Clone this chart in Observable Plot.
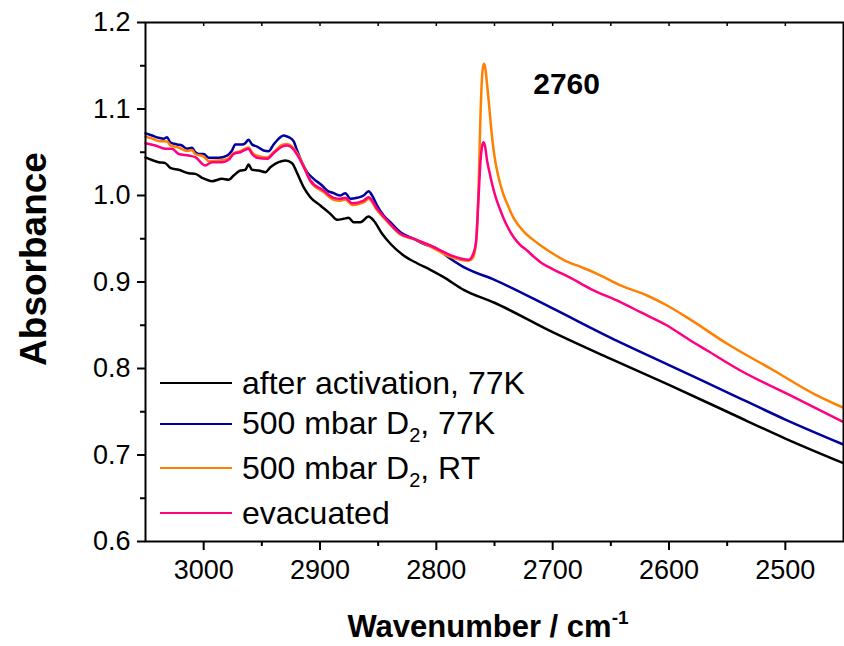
<!DOCTYPE html>
<html>
<head>
<meta charset="utf-8">
<script src="https://cdn.jsdelivr.net/npm/d3@7"></script>
<script src="https://cdn.jsdelivr.net/npm/@observablehq/plot@0.6"></script>
<style>
  body { margin: 0; background: #fff; }
  #wrap { position: relative; width: 844px; height: 646px; font-family: "Liberation Sans", Arial, sans-serif; color: #000; }
  .lg { position: absolute; left: 160px; height: 30px; display: flex; align-items: center; font-size: 32px; white-space: nowrap; }
  .lg .sw { display: inline-block; width: 72px; height: 0; border-top: 2.5px solid; margin-right: 10px; }
  .lg sub { font-size: 20px; vertical-align: -8px; line-height: 0; }
  #xlab { position: absolute; left: 288px; width: 400px; top: 611px; line-height: 31px; text-align: center; font-weight: bold; font-size: 31px; }
  #xlab sup { font-size: 19px; vertical-align: 13px; line-height: 0; }
  #ylab { position: absolute; left: -116px; top: 239px; width: 300px; height: 40px; line-height: 40px; text-align: center; font-weight: bold; font-size: 37px; transform: rotate(-90deg); }
</style>
</head>
<body>
<div id="wrap"></div>
<script>
// ---------------- data ----------------
const seriesNames = ["after activation, 77K", "500 mbar D2, 77K", "500 mbar D2, RT", "evacuated"];
const seriesColors = ["#000000", "#0000A0", "#FF8000", "#FF0080"];

const blackX = [3050, 3038.7, 3033, 3028.7, 3021.5, 3012.9, 3007.2, 3001.4, 2992.8, 2984.2, 2978.5, 2974.2, 2968.5, 2964.2, 2961.4, 2958.4, 2952.8, 2947, 2942.7, 2935.6, 2929.8, 2924, 2919.7, 2914.1, 2908.3, 2899.7, 2891.1, 2885.3, 2879.7, 2875.4, 2871.1, 2865.3, 2858.2, 2853.9, 2846.6, 2839.5, 2828.1, 2816.6, 2805.1, 2793.7, 2776.5, 2750, 2700, 2650, 2600, 2550, 2500, 2450];
const blackY = [1.044, 1.0385, 1.0374, 1.032, 1.0297, 1.0258, 1.025, 1.0205, 1.0166, 1.0193, 1.0181, 1.0231, 1.0289, 1.0297, 1.0358, 1.0297, 1.0289, 1.027, 1.0327, 1.0385, 1.0405, 1.0374, 1.026, 1.0096, 0.998, 0.9884, 0.9788, 0.9719, 0.973, 0.9742, 0.9691, 0.9691, 0.9757, 0.9711, 0.9557, 0.9442, 0.9306, 0.9217, 0.9141, 0.9056, 0.891, 0.876, 0.842, 0.811, 0.781, 0.750, 0.719, 0.6905];

const blueX = [3050, 3044.4, 3038.7, 3034.4, 3031.5, 3028.7, 3022.9, 3018.6, 3014.3, 3010, 3007.2, 3004.3, 3000, 2995.7, 2987.1, 2979.9, 2975.6, 2972.8, 2967, 2964.2, 2961.4, 2958.4, 2954.1, 2948.5, 2944.2, 2939.9, 2934.1, 2931.3, 2927, 2922.7, 2919.7, 2915.4, 2911.1, 2905.5, 2898.2, 2893.9, 2888.3, 2882.5, 2878.2, 2873.9, 2868.1, 2862.5, 2858.2, 2855.2, 2850.9, 2845.3, 2839.5, 2830.9, 2819.5, 2810.9, 2799.4, 2787.9, 2776.5, 2750, 2700, 2650, 2600, 2550, 2500, 2450];
const blueY = [1.072, 1.0694, 1.0667, 1.0655, 1.0674, 1.0616, 1.059, 1.0578, 1.054, 1.0551, 1.050, 1.048, 1.048, 1.0436, 1.0436, 1.0462, 1.052, 1.059, 1.059, 1.0605, 1.0644, 1.059, 1.0566, 1.052, 1.0512, 1.059, 1.0674, 1.0694, 1.0674, 1.0628, 1.052, 1.038, 1.027, 1.0193, 1.0116, 1.0058, 1.0027, 1.0, 1.0027, 0.9962, 0.9973, 1.0, 1.005, 1.0, 0.9884, 0.9769, 0.9691, 0.9576, 0.950, 0.9442, 0.9384, 0.9268, 0.9171, 0.9025, 0.8695, 0.8355, 0.804, 0.7725, 0.741, 0.7121];

const orangeX = [3050, 3044.4, 3038.7, 3031.5, 3028.7, 3021.5, 3014.3, 3010, 3007.2, 3000, 2995.7, 2987.1, 2979.9, 2974.2, 2968.5, 2961.4, 2958.4, 2954.1, 2945.5, 2939.9, 2932.6, 2928.3, 2924, 2918.4, 2914, 2908.3, 2896.9, 2888.3, 2882.5, 2878.2, 2872.4, 2862.5, 2858.2, 2850.9, 2842.3, 2830.9, 2819.5, 2805.1, 2787.9, 2772.2, 2768.5, 2766.4, 2765, 2763.6, 2762.1, 2760.8, 2759.3, 2758, 2756.5, 2755, 2753, 2751, 2749, 2747, 2745, 2742, 2738, 2734, 2729, 2724, 2717, 2710, 2700, 2690, 2675, 2661.8, 2641.7, 2618.8, 2601.6, 2581.6, 2550, 2509.9, 2475.5, 2450];
const orangeY = [1.068, 1.066, 1.063, 1.0625, 1.058, 1.0555, 1.0515, 1.0525, 1.048, 1.045, 1.040, 1.0405, 1.042, 1.049, 1.0512, 1.0555, 1.050, 1.046, 1.044, 1.050, 1.0585, 1.0596, 1.0565, 1.046, 1.034, 1.0165, 1.004, 0.995, 0.994, 0.9955, 0.989, 0.992, 0.996, 0.983, 0.970, 0.955, 0.9495, 0.941, 0.929, 0.9245, 0.928, 0.9402, 0.960, 1.0135, 1.0905, 1.135, 1.1522, 1.148, 1.130, 1.1098, 1.080, 1.055, 1.037, 1.024, 1.013, 1.0, 0.987, 0.975, 0.965, 0.957, 0.949, 0.942, 0.933, 0.925, 0.917, 0.9095, 0.896, 0.8844, 0.8728, 0.8565, 0.8286, 0.7977, 0.7707, 0.7546];

const pinkX = [3050, 3041.6, 3033, 3027.2, 3021.5, 3012.9, 3007.2, 2998.6, 2992.8, 2984.2, 2978.5, 2974.2, 2968.5, 2961.4, 2958.4, 2954.1, 2945.5, 2939.9, 2932.6, 2928.3, 2924, 2918.4, 2914, 2908.3, 2896.9, 2888.3, 2882.5, 2878.2, 2872.4, 2862.5, 2858.2, 2850.9, 2842.3, 2830.9, 2819.5, 2805.1, 2787.9, 2772.2, 2768.5, 2766, 2764, 2762, 2760.5, 2759.3, 2758, 2756.4, 2754, 2752.1, 2749, 2745, 2740, 2733.5, 2728, 2722, 2716, 2710.5, 2700, 2685, 2667.5, 2641.7, 2624.5, 2601.6, 2581.6, 2567.2, 2538.6, 2492.7, 2450];
const pinkY = [1.0605, 1.0578, 1.054, 1.054, 1.048, 1.0462, 1.0443, 1.0347, 1.0385, 1.0385, 1.0413, 1.048, 1.050, 1.054, 1.048, 1.0436, 1.0424, 1.0489, 1.0566, 1.0578, 1.0551, 1.0443, 1.033, 1.0173, 1.0058, 0.9973, 0.9962, 0.9973, 0.9911, 0.9942, 0.998, 0.9846, 0.9711, 0.9557, 0.950, 0.9422, 0.931, 0.9257, 0.932, 0.945, 0.990, 1.040, 1.058, 1.0616, 1.056, 1.0405, 1.025, 1.0135, 0.998, 0.983, 0.967, 0.9518, 0.943, 0.9364, 0.929, 0.9229, 0.915, 0.905, 0.8921, 0.8767, 0.8651, 0.8497, 0.8324, 0.8208, 0.7977, 0.7668, 0.738];

const yMajor = [0.6, 0.7, 0.8, 0.9, 1.0, 1.1, 1.2];
const yMinor = [0.65, 0.75, 0.85, 0.95, 1.05, 1.15];
const xMajor = [3000, 2900, 2800, 2700, 2600, 2500];
const xMinor = [2950, 2850, 2750, 2650, 2550];
const xTop = [3000, 2950, 2900, 2850, 2800, 2750, 2700, 2650, 2600, 2550, 2500];
const xDomain = [3050, 2450];
const yDomain = [0.6, 1.2];

const annotText = ["2760"];
const annotX = [2688];
const annotY = [1.128];

// ---------------- build ----------------
const xs = [blackX, blueX, orangeX, pinkX];
const ys = [blackY, blueY, orangeY, pinkY];
const rows = [];
xs.forEach((arr, i) => arr.forEach((w, j) => rows.push({series: seriesNames[i], w, a: ys[i][j]})));
const annots = annotText.map((t, i) => ({t, x: annotX[i], y: annotY[i]}));

const font = "'Liberation Sans', Arial, sans-serif";
const chart = Plot.plot({
  width: 844, height: 646,
  marginLeft: 145, marginRight: 1, marginTop: 22, marginBottom: 105,
  style: {fontFamily: font, background: "#fff", color: "#000", overflow: "visible"},
  x: {domain: xDomain, label: null},
  y: {domain: yDomain, label: null},
  color: {domain: seriesNames, range: seriesColors},
  marks: [
    Plot.axisY(yMajor, {tickSize: 8, tickPadding: 7, fontSize: 27, tickFormat: d3.format(".1f"), label: null, strokeWidth: 2}),
    Plot.axisY(yMinor, {tickSize: 5, text: null, label: null, strokeWidth: 2}),
    Plot.axisX(xMajor, {tickSize: 9, tickPadding: 9, fontSize: 27, tickFormat: d => String(d), label: null, strokeWidth: 2}),
    Plot.axisX(xMinor, {tickSize: 5, text: null, label: null, strokeWidth: 2}),
    Plot.ruleX(xTop, {x: d => d, insetBottom: 515, stroke: "#000", strokeWidth: 1.5}),
    Plot.line(rows, {x: "w", y: "a", z: "series", stroke: "series", strokeWidth: 2.5, strokeLinejoin: "round", curve: "monotone-x"}),
    Plot.text(annots, {x: "x", y: "y", text: "t", fontSize: 30, fontWeight: "bold", fill: "#000"}),
    Plot.frame({stroke: "#000", strokeWidth: 2})
  ]
});

const wrap = document.getElementById("wrap");
wrap.appendChild(chart);

// legend (HTML overlay)
const legendRowsY = [383, 423.5, 468, 513];
const legendHTML = [
  "after activation, 77K",
  "500 mbar D<sub>2</sub>, 77K",
  "500 mbar D<sub>2</sub>, RT",
  "evacuated"
];
legendHTML.forEach((h, i) => {
  const d = document.createElement("div");
  d.className = "lg";
  d.style.top = (legendRowsY[i] - 15) + "px";
  d.innerHTML = `<span class="sw" style="border-color:${seriesColors[i]}"></span><span>${h}</span>`;
  wrap.appendChild(d);
});

const xl = document.createElement("div");
xl.id = "xlab";
xl.innerHTML = "Wavenumber / cm<sup>-1</sup>";
wrap.appendChild(xl);

const yl = document.createElement("div");
yl.id = "ylab";
yl.textContent = "Absorbance";
wrap.appendChild(yl);
</script>
</body>
</html>
